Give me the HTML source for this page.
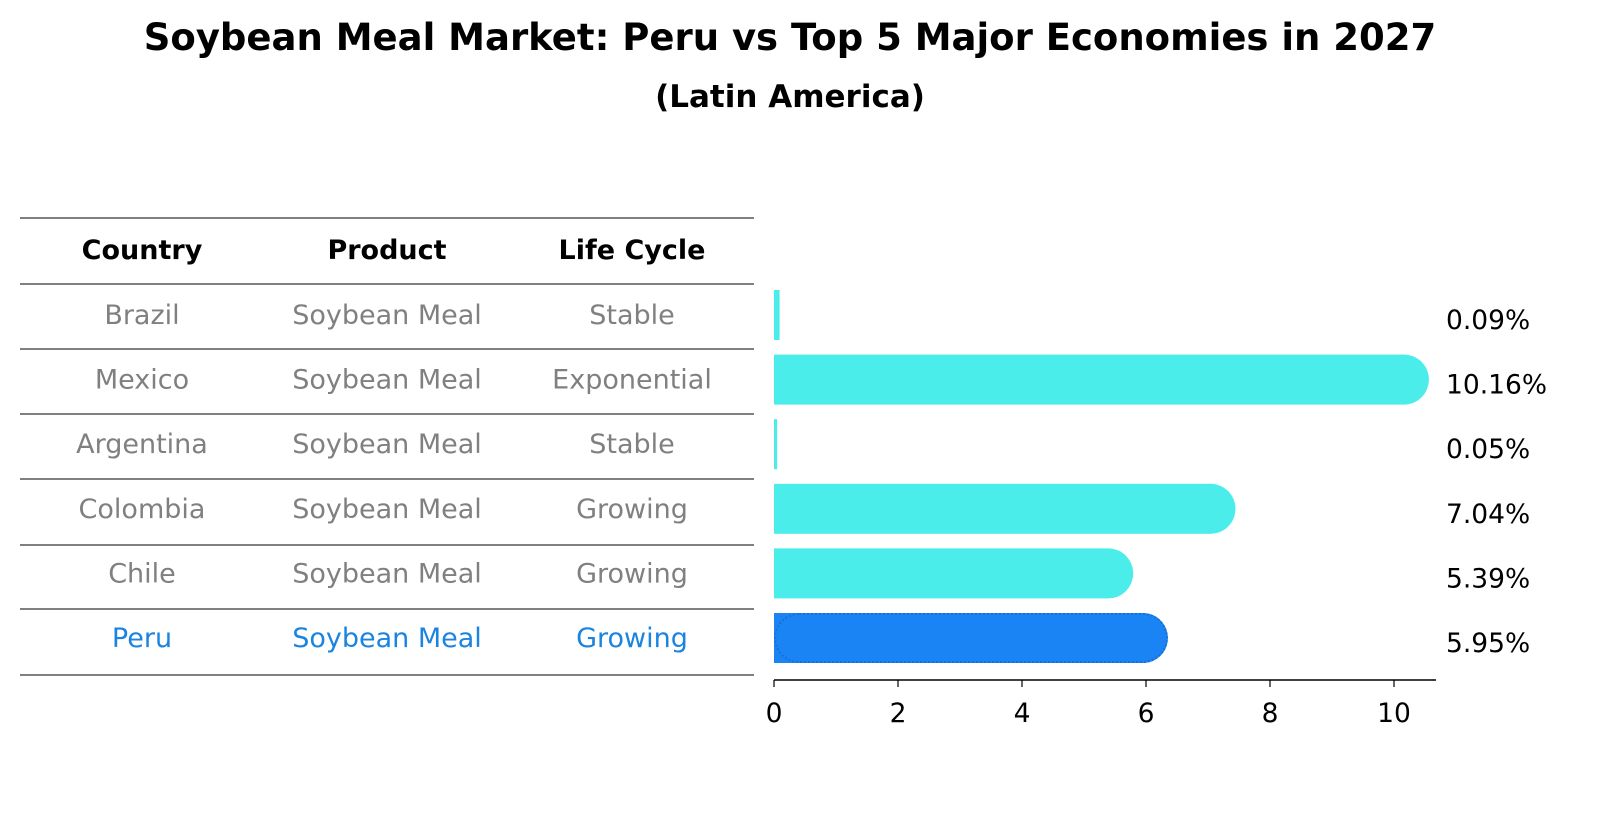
<!DOCTYPE html>
<html><head><meta charset="utf-8"><style>
body{margin:0;background:#fff;font-family:"Liberation Sans","DejaVu Sans",sans-serif}
</style></head><body>
<svg width="1604" height="823" xmlns="http://www.w3.org/2000/svg" id="chart" font-family="DejaVu Sans, Liberation Sans, sans-serif">
<text x="790" y="50" text-anchor="middle" font-size="37" font-weight="bold">Soybean Meal Market: Peru vs Top 5 Major Economies in 2027</text>
<text x="790" y="107" text-anchor="middle" font-size="31" font-weight="bold">(Latin America)</text>
<g id="table"></g>
<g id="bars"></g>
</svg>
<script>
const countries=["Brazil","Mexico","Argentina","Colombia","Chile","Peru"];
const products=["Soybean Meal","Soybean Meal","Soybean Meal","Soybean Meal","Soybean Meal","Soybean Meal"];
const lifeCycles=["Stable","Exponential","Stable","Growing","Growing","Growing"];
const values=[0.09,10.16,0.05,7.04,5.39,5.95];
const valueLabels=["0.09%","10.16%","0.05%","7.04%","5.39%","5.95%"];
const ticks=[0,2,4,6,8,10];
const NS="http://www.w3.org/2000/svg";
function mk(tag,attrs,parent,text){const e=document.createElementNS(NS,tag);for(const k in attrs)e.setAttribute(k,attrs[k]);if(text!==undefined)e.textContent=text;parent.appendChild(e);return e;}
const table=document.getElementById('table');
const bars=document.getElementById('bars');
const rowY=i=>315+i*64.6;
const xs=v=>774+v*62;
const lines=[218,284,349,414,479,545,609,675];
lines.forEach(y=>{const l=mk('line',{x1:20,x2:754,y1:y,y2:y,stroke:'#000','stroke-width':1},table);

});
const colX=[142,387,632];
["Country","Product","Life Cycle"].forEach((h,j)=>{const t=mk('text',{x:colX[j],y:259,'text-anchor':'middle','font-size':27,'font-weight':'bold'},table,h);

});
countries.forEach((c,i)=>{
 const col=c==="Peru"?"#1a84e0":"#808080";
 [c,products[i],lifeCycles[i]].forEach((s,j)=>{const t=mk('text',{x:colX[j],y:rowY(i)+9,'text-anchor':'middle','font-size':27,fill:col},table,s);
 
 });
 const w=values[i]*62, h=50, y=rowY(i)-25;
 const fill=c==="Peru"?"#1a84f5":"#4aedea";
 let r=w>30?25:0;
 const g=mk('g',{},bars);
 
 
 mk('rect',{x:774,y:y,width:Math.max(w,1),height:h,fill:fill},g);
 if(r){mk('rect',{x:774+w-r,y:y,width:2*r,height:h,rx:r,ry:r,fill:fill},g);}
 if(c==="Peru"){mk('rect',{x:775,y:y+1,width:w+r-2,height:h-2,rx:r?24:0,fill:'none',stroke:'#1a6fd8','stroke-width':2,'stroke-dasharray':'2,2'},g);}
 const t=mk('text',{x:1446,y:rowY(i)+14,'font-size':26.5},bars,valueLabels[i]);
 
 
});
const ax=mk('line',{x1:774,x2:1436,y1:680,y2:680,stroke:'#000','stroke-width':1.5},bars);


ticks.forEach(t=>{mk('line',{x1:xs(t),x2:xs(t),y1:680,y2:687,stroke:'#000','stroke-width':1.2},bars);
 const l=mk('text',{x:xs(t),y:722,'text-anchor':'middle','font-size':26.5},bars,t);
 
 });
</script>
</body></html>
